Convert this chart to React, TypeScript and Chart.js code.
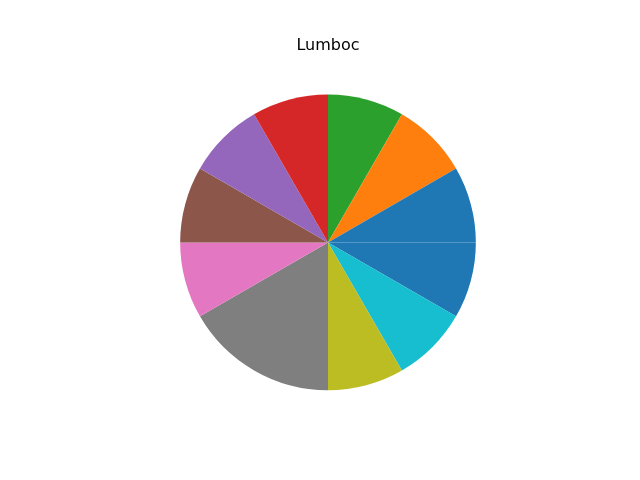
import React, { useEffect, useRef } from "react";
import { Chart, registerables } from "chart.js";

Chart.register(...registerables);

const TITLE = "Lumboc";
// Slices in matplotlib order (counter-clockwise from 3 o'clock)
const labels = ["A", "B", "C", "D", "E", "F", "G", "H", "I", "J", "K"];
const values = [1, 1, 1, 1, 1, 1, 1, 2, 1, 1, 1];
const colors = [
  "#1f77b4", "#ff7f0e", "#2ca02c", "#d62728", "#9467bd",
  "#8c564b", "#e377c2", "#7f7f7f", "#bcbd22", "#17becf", "#1f77b4",
];

export default function App() {
  const ref = useRef<HTMLCanvasElement | null>(null);
  useEffect(() => {
    if (!ref.current) return;
    // Chart.js draws clockwise, so reverse and start at 3 o'clock
    const l = [...labels].reverse();
    const v = [...values].reverse();
    const c = [...colors].reverse();
    const titlePlugin = {
      id: "mplTitle",
      afterDraw(chart: any) {
        const ctx = chart.ctx;
        ctx.save();
        ctx.font = '16px "DejaVu Sans"';
        ctx.fillStyle = "#000";
        ctx.textAlign = "center";
        ctx.textBaseline = "alphabetic";
        ctx.fillText(TITLE, 328, 49.6);
        ctx.restore();
      },
    };
    const chart = new Chart(ref.current, {
      type: "pie",
      data: {
        labels: l,
        datasets: [{ data: v, backgroundColor: c, borderWidth: 0 }],
      },
      options: {
        responsive: false,
        animation: false,
        rotation: 90,
        layout: { padding: { top: 94.56, bottom: 89.76, left: 180.16, right: 164.16 } },
        plugins: { legend: { display: false }, tooltip: { enabled: false }, title: { display: false } },
      },
      plugins: [titlePlugin],
    });
    return () => chart.destroy();
  }, []);
  return (
    <div style={{ position: "fixed", left: 0, top: 0, width: 640, height: 480, background: "#fff" }}>
      <canvas ref={ref} width={640} height={480} />
    </div>
  );
}
